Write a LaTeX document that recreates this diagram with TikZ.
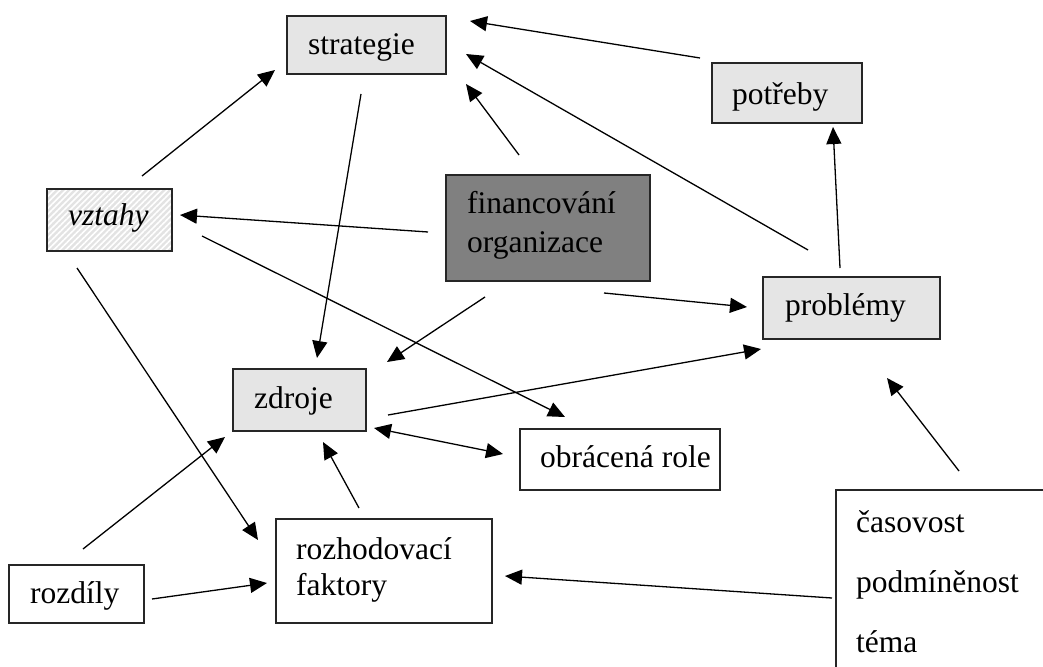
\documentclass[tikz,border=0pt]{standalone}
\usepackage{fontspec}
\setmainfont{Liberation Serif}
\usetikzlibrary{arrows.meta,patterns.meta}
\begin{document}
\begin{tikzpicture}[x=1pt,y=-1pt,
 box/.style={draw=black!85, line width=1.3pt, anchor=north west, inner sep=0pt, outer sep=0pt},
 light/.style={fill=gray!20},
 dark/.style={fill=gray},
 hatch/.style={preaction={fill=gray!22}, preaction={pattern={Lines[angle=45,distance=4.2pt,line width=1.6pt]}, pattern color=white}},
 lbl/.style={anchor=base west, inner sep=0pt, font=\fontsize{31.5}{37}\selectfont},
 conn/.style={line width=1.3pt, -{Triangle[length=17pt,width=15pt]}},
 dconn/.style={line width=1.3pt, {Triangle[length=17pt,width=15pt]}-{Triangle[length=17pt,width=15pt]}},
]
\useasboundingbox (0,0) rectangle (1043,666);
\fill[white] (0,0) rectangle (1043,666);

% boxes
\node[box, light, minimum width=159pt, minimum height=58pt] (strategie) at (287,16) {};
\node[box, light, minimum width=150pt, minimum height=60pt] (potreby) at (712,63) {};
\node[box, hatch, minimum width=125pt, minimum height=62pt] (vztahy) at (47,189) {};
\node[box, dark, minimum width=204pt, minimum height=106pt] (financovani) at (446,175) {};
\node[box, light, minimum width=177pt, minimum height=62pt] (problemy) at (763,277) {};
\node[box, light, minimum width=133pt, minimum height=62pt] (zdroje) at (233,369) {};
\node[box, minimum width=200pt, minimum height=61pt] (obracena) at (520,429) {};
\node[box, minimum width=216pt, minimum height=104pt] (rozhodovaci) at (276,519) {};
\node[box, minimum width=135pt, minimum height=58pt] (rozdily) at (9,565) {};
\node[box, minimum width=240pt, minimum height=220pt] (casovost) at (836,490) {};

% labels
\node[lbl] (t-strategie) at (308,55) {strategie};
\node[lbl] (t-potreby) at (732,105) {potřeby};
\node[lbl] (t-vztahy) at (68,225) {\itshape vztahy};
\node[lbl] (t-fin1) at (467,213) {financování};
\node[lbl] (t-fin2) at (467,252) {organizace};
\node[lbl] (t-problemy) at (785,315) {problémy};
\node[lbl] (t-zdroje) at (254,408) {zdroje};
\node[lbl] (t-obracena) at (540,467) {obrácená role};
\node[lbl] (t-roz1) at (296,559) {rozhodovací};
\node[lbl] (t-roz2) at (296,595) {faktory};
\node[lbl] (t-rozdily) at (30,603) {rozdíly};
\node[lbl] (t-cas1) at (856,532) {časovost};
\node[lbl] (t-cas2) at (856,592) {podmíněnost};
\node[lbl] (t-cas3) at (856,652) {téma};

% connector end points
\coordinate (a1) at (142,176);  \coordinate (b1) at (275,70);
\coordinate (a2) at (361,94);   \coordinate (b2) at (317,358);
\coordinate (a3) at (519,155);  \coordinate (b3) at (466,84);
\coordinate (a4) at (700,58);   \coordinate (b4) at (470,21);
\coordinate (a5) at (808,250);  \coordinate (b5) at (466,54);
\coordinate (a6) at (840,268);  \coordinate (b6) at (833,127);
\coordinate (a7) at (428,232);  \coordinate (b7) at (180,215);
\coordinate (a8) at (202,236);  \coordinate (b8) at (565,417);
\coordinate (a9) at (77,268);   \coordinate (b9) at (258,540);
\coordinate (a10) at (485,297); \coordinate (b10) at (387,362);
\coordinate (a11) at (604,293); \coordinate (b11) at (747,307);
\coordinate (a12) at (388,415); \coordinate (b12) at (761,349);
\coordinate (a13) at (374,428); \coordinate (b13) at (503,454);
\coordinate (a14) at (359,508); \coordinate (b14) at (323,442);
\coordinate (a15) at (83,549);  \coordinate (b15) at (225,437);
\coordinate (a16) at (152,599); \coordinate (b16) at (267,583);
\coordinate (a17) at (832,598); \coordinate (b17) at (505,576);
\coordinate (a18) at (959,471); \coordinate (b18) at (887,378);

\draw[conn] (a1) -- (b1);
\draw[conn] (a2) -- (b2);
\draw[conn] (a3) -- (b3);
\draw[conn] (a4) -- (b4);
\draw[conn] (a5) -- (b5);
\draw[conn] (a6) -- (b6);
\draw[conn] (a7) -- (b7);
\draw[conn] (a8) -- (b8);
\draw[conn] (a9) -- (b9);
\draw[conn] (a10) -- (b10);
\draw[conn] (a11) -- (b11);
\draw[conn] (a12) -- (b12);
\draw[dconn] (a13) -- (b13);
\draw[conn] (a14) -- (b14);
\draw[conn] (a15) -- (b15);
\draw[conn] (a16) -- (b16);
\draw[conn] (a17) -- (b17);
\draw[conn] (a18) -- (b18);
\end{tikzpicture}
\end{document}
